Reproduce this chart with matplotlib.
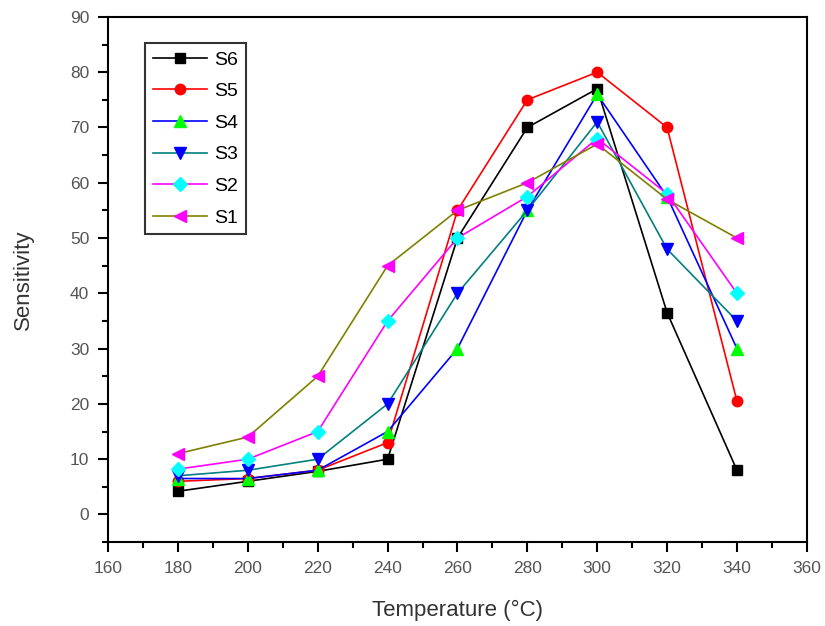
import matplotlib
matplotlib.use("Agg")
import matplotlib.pyplot as plt
from matplotlib.ticker import MultipleLocator

plt.rcParams['font.family'] = ['Liberation Sans', 'DejaVu Sans']

temperature = [180, 200, 220, 240, 260, 280, 300, 320, 340]
s6 = [4.2, 6.0, 7.8, 10.0, 50.0, 70.0, 77.0, 36.5, 8.0]
s5 = [6.0, 6.5, 8.0, 13.0, 55.0, 75.0, 80.0, 70.0, 20.5]
s4 = [6.5, 6.5, 8.0, 15.0, 30.0, 55.0, 76.0, 57.5, 30.0]
s3 = [7.0, 8.0, 10.0, 20.0, 40.0, 55.0, 71.0, 48.0, 35.0]
s2 = [8.2, 10.0, 15.0, 35.0, 50.0, 57.5, 68.0, 58.0, 40.0]
s1 = [11.0, 14.0, 25.0, 45.0, 55.0, 60.0, 67.0, 57.0, 50.0]

series = [
    ("S6", s6, "black", "s", "black", 7),
    ("S5", s5, "red", "o", "red", 7.5),
    ("S4", s4, "blue", "^", "#00ff00", 8.5),
    ("S3", s3, "#008080", "v", "blue", 8.5),
    ("S2", s2, "magenta", "D", "cyan", 7),
    ("S1", s1, "#808000", "<", "magenta", 8.5),
]

fig = plt.figure(figsize=(8.25, 6.26), dpi=100)
ax = fig.add_axes([0.131, 0.134, 0.847, 0.839])

for name, vals, lc, mk, mc, ms in series:
    ax.plot(temperature, vals, color=lc, lw=1.2, marker=mk, markersize=ms,
            markerfacecolor=mc, markeredgecolor=mc, label=name)

ax.set_xlim(160, 360)
ax.xaxis.set_major_locator(MultipleLocator(20))
ax.xaxis.set_minor_locator(MultipleLocator(10))
ax.yaxis.set_minor_locator(MultipleLocator(5))
ax.set_yticks(range(0, 91, 10))
ax.set_ylim(-5, 90)

for sp in ax.spines.values():
    sp.set_linewidth(1.5)
ax.tick_params(which='major', direction='out', length=7.5, width=1.5,
               labelsize=12.5, labelcolor='#555555', pad=6)
ax.tick_params(which='minor', direction='out', length=4, width=1.5)
ax.tick_params(top=False, right=False, which='both')

ax.set_xlabel("Temperature (°C)", fontsize=16, color='#333333', labelpad=17)
ax.set_ylabel("Sensitivity", fontsize=16, color='#333333', labelpad=26)

leg = ax.legend(loc='upper left', bbox_to_anchor=(0.053, 0.95), fontsize=14,
                frameon=True, fancybox=False, edgecolor='black',
                handlelength=2.8, labelspacing=0.72, borderpad=0.4,
                handletextpad=0.35, borderaxespad=0)
leg.get_frame().set_linewidth(1.5)

fig.savefig("out.png", dpi=100)
